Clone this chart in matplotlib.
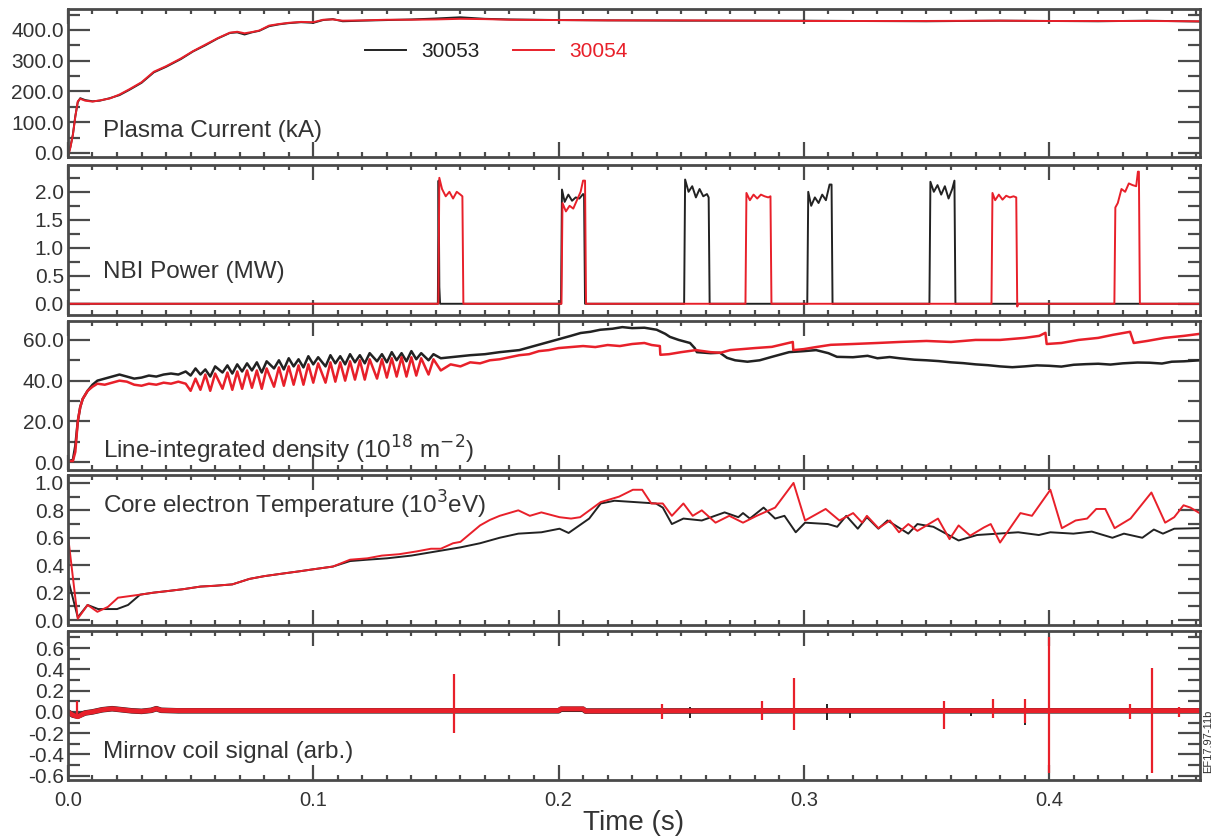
import matplotlib
matplotlib.use("Agg")
import matplotlib.pyplot as plt
from matplotlib.ticker import MultipleLocator, FormatStrFormatter

plt.rcParams['font.family'] = ['Liberation Sans', 'DejaVu Sans']

BLACK = '#222222'
RED = '#e8202a'
TXT = '#333333'
FRAME = '#4a4a4a'

shots = ['30053', '30054']

# ---------------- Plasma current (kA) ----------------
ip_t_53 = [0, 0.001, 0.002, 0.003, 0.004, 0.005, 0.007, 0.010, 0.013, 0.017, 0.021, 0.025,
           0.030, 0.035, 0.040, 0.046, 0.051, 0.056, 0.061, 0.066, 0.069, 0.072, 0.075, 0.078,
           0.082, 0.086, 0.090, 0.095, 0.100, 0.104, 0.108, 0.112, 0.120, 0.130, 0.140, 0.150,
           0.160, 0.170, 0.180, 0.200, 0.220, 0.250, 0.280, 0.300, 0.320, 0.350, 0.380, 0.400,
           0.420, 0.440, 0.4615]
ip_v_53 = [-10, 20, 60, 120, 165, 178, 172, 168, 170, 178, 188, 205,
           228, 262, 280, 305, 330, 350, 372, 390, 392, 385, 392, 397,
           412, 418, 422, 425, 423, 432, 435, 428, 430, 432, 434, 437,
           441, 436, 434, 432, 431, 430, 430, 430, 429, 428, 430, 429,
           428, 430, 427]
ip_t_54 = [0, 0.001, 0.002, 0.003, 0.004, 0.005, 0.007, 0.010, 0.013, 0.017, 0.021, 0.025,
           0.030, 0.035, 0.040, 0.046, 0.051, 0.056, 0.061, 0.066, 0.069, 0.072, 0.075, 0.078,
           0.082, 0.086, 0.090, 0.095, 0.100, 0.104, 0.108, 0.112, 0.120, 0.130, 0.140, 0.150,
           0.160, 0.170, 0.180, 0.200, 0.220, 0.250, 0.280, 0.300, 0.320, 0.350, 0.380, 0.400,
           0.420, 0.440, 0.4615]
ip_v_54 = [-12, 18, 58, 118, 168, 176, 170, 167, 171, 177, 190, 207,
           230, 264, 282, 307, 331, 352, 373, 391, 394, 389, 393, 398,
           414, 419, 423, 426, 425, 433, 434, 430, 431, 433, 433, 434,
           436, 435, 433, 432, 431, 431, 430, 429, 429, 429, 430, 429,
           429, 429, 428]

# ---------------- NBI power (MW) ----------------
nbi_t_53 = [0, 0.1508, 0.1511, 0.1514, 0.1517, 0.2010, 0.2014, 0.2025, 0.2040, 0.2055, 0.2070,
            0.2085, 0.2100, 0.2104, 0.2108, 0.2512, 0.2516, 0.2530, 0.2545, 0.2560, 0.2575,
            0.2590, 0.2605, 0.2612, 0.2616, 0.3014, 0.3018, 0.3030, 0.3045, 0.3060, 0.3075,
            0.3090, 0.3105, 0.3113, 0.3117, 0.3512, 0.3516, 0.3530, 0.3545, 0.3560, 0.3575,
            0.3590, 0.3605, 0.3614, 0.3618, 0.4615]
nbi_v_53 = [0, 0, 2.2, 0.3, 0, 0, 2.04, 1.82, 1.95, 1.84, 1.9, 1.88, 1.96, 1.95, 0, 0, 2.22,
            2.0, 2.1, 1.9, 2.05, 1.92, 1.96, 1.9, 0, 0, 2.0, 1.75, 1.9, 1.8, 1.95, 1.85, 2.13,
            2.13, 0, 0, 2.18, 2.0, 2.12, 1.95, 2.1, 1.88, 2.05, 2.2, 0, 0]
nbi_t_54 = [0, 0.1510, 0.1514, 0.1525, 0.1540, 0.1555, 0.1570, 0.1585, 0.1600, 0.1608, 0.1612,
            0.2012, 0.2016, 0.2030, 0.2045, 0.2060, 0.2075, 0.2090, 0.2100, 0.2108, 0.2112,
            0.2762, 0.2766, 0.2780, 0.2795, 0.2810, 0.2825, 0.2840, 0.2855, 0.2864, 0.2868,
            0.3765, 0.3769, 0.3780, 0.3795, 0.3810, 0.3825, 0.3840, 0.3855, 0.3866, 0.3870,
            0.3874, 0.4266, 0.4270, 0.4280, 0.4295, 0.4310, 0.4325, 0.4340, 0.4355, 0.4362,
            0.4366, 0.4370, 0.4615]
nbi_v_54 = [0, 0, 2.25, 2.05, 1.92, 2.0, 1.88, 2.0, 1.95, 1.92, 0,
            0, 1.8, 1.65, 1.75, 1.7, 1.85, 2.0, 2.2, 2.2, 0,
            0, 1.98, 1.85, 1.95, 1.88, 1.95, 1.92, 1.9, 1.92, 0,
            0, 1.98, 1.85, 1.95, 1.86, 1.93, 1.9, 1.92, 1.9, -0.05,
            0, 0, 1.72, 1.8, 2.05, 2.0, 2.15, 2.12, 2.1, 2.36,
            2.36, 0, 0]

# ---------------- Line-integrated density (1e18 m^-2) ----------------
ne_t_53 = [0, 0.002, 0.003, 0.004, 0.005, 0.006, 0.008, 0.010, 0.012, 0.015, 0.018, 0.021,
           0.024, 0.027, 0.030, 0.033, 0.036, 0.039, 0.042, 0.045, 0.048,
           0.050, 0.052, 0.054, 0.056, 0.058, 0.060, 0.063, 0.065, 0.067, 0.069, 0.071, 0.073,
           0.075, 0.077, 0.079, 0.081, 0.084, 0.086, 0.088, 0.090, 0.092, 0.094, 0.096, 0.098,
           0.100, 0.102, 0.105, 0.107, 0.109, 0.111, 0.113, 0.115, 0.117, 0.119, 0.121, 0.123,
           0.126, 0.128, 0.130, 0.132, 0.134, 0.136, 0.138, 0.140, 0.142, 0.144, 0.147, 0.149,
           0.152, 0.156, 0.160, 0.164, 0.170, 0.176, 0.184, 0.190, 0.199, 0.205, 0.209, 0.213,
           0.217, 0.222, 0.226, 0.230, 0.235, 0.240, 0.2435, 0.2454, 0.249, 0.2536, 0.2555,
           0.2564, 0.262, 0.2658, 0.2687, 0.272, 0.277, 0.282, 0.287, 0.294, 0.300, 0.305,
           0.310, 0.3135, 0.320, 0.326, 0.330, 0.335, 0.339, 0.345, 0.350, 0.355, 0.360,
           0.365, 0.370, 0.375, 0.380, 0.385, 0.390, 0.395, 0.400, 0.405, 0.410, 0.415,
           0.420, 0.425, 0.430, 0.436, 0.441, 0.446, 0.450, 0.455, 0.4615]
ne_v_53 = [0.5, 1, 8, 20, 27, 31, 35, 38, 40, 41, 42, 43,
           42, 41, 41.5, 42.5, 42, 43, 43.5, 43, 44.5,
           42.5, 46, 43, 45.5, 42, 47, 44, 47.5, 43.5, 48, 44.5, 48.5,
           45, 49, 44, 49.5, 46, 50, 45.5, 51, 47, 50.5, 46.5, 52,
           48, 51.5, 47, 52.5, 48.5, 52, 48, 53, 49, 52.5, 48.5, 53.5,
           49.5, 53, 49, 54, 50, 53.5, 49.5, 54.5, 50.5, 53.5, 50, 53,
           51, 51.5, 52, 52.5, 53, 54, 55, 57, 60, 62, 63.4, 64,
           65, 65.5, 66.3, 65.8, 66, 65, 63, 61.5, 60, 58.5, 56,
           54, 53.5, 53.7, 51.2, 50, 49.3, 50, 51.7, 54, 54.5, 55,
           53.5, 51.7, 51.5, 52.2, 51, 51.6, 51, 50.3, 50, 49.6, 49,
           48.6, 48, 47.6, 47, 46.6, 47, 47.5, 47.3, 46.9, 47.8, 48.1,
           48.3, 47.9, 48.5, 48.9, 48.8, 48.4, 49.3, 49.5, 50]
ne_t_54 = [0, 0.002, 0.003, 0.004, 0.005, 0.006, 0.008, 0.010, 0.012, 0.015, 0.018, 0.021,
           0.024, 0.027, 0.030, 0.033, 0.036, 0.039, 0.042, 0.045, 0.048,
           0.050, 0.052, 0.054, 0.056, 0.058, 0.060, 0.063, 0.065, 0.067, 0.069, 0.071, 0.073,
           0.075, 0.077, 0.079, 0.081, 0.084, 0.086, 0.088, 0.090, 0.092, 0.094, 0.096, 0.098,
           0.100, 0.102, 0.105, 0.107, 0.109, 0.111, 0.113, 0.115, 0.117, 0.119, 0.121, 0.123,
           0.126, 0.128, 0.130, 0.132, 0.134, 0.136, 0.138, 0.140, 0.142, 0.144, 0.147, 0.149,
           0.152, 0.156, 0.160, 0.164, 0.168, 0.172, 0.176, 0.180, 0.184, 0.188, 0.192, 0.196,
           0.200, 0.205, 0.210, 0.215, 0.220, 0.225, 0.230, 0.235, 0.238, 0.2413, 0.2415,
           0.245, 0.250, 0.256, 0.262, 0.266, 0.270, 0.275, 0.280, 0.287, 0.2955, 0.2957,
           0.300, 0.305, 0.311, 0.320, 0.330, 0.339, 0.350, 0.360, 0.370, 0.380, 0.390,
           0.396, 0.3985, 0.399, 0.405, 0.412, 0.420, 0.426, 0.433, 0.4345, 0.440, 0.447,
           0.455, 0.4615]
ne_v_54 = [0.5, 0.5, 5, 20, 27, 31, 35, 37, 38.5, 38, 39, 40,
           39.5, 38, 37.5, 38.5, 38, 39, 38.5, 39.5, 38.5,
           35, 41, 35.5, 43, 35, 43.5, 36, 44, 35.5, 44.5, 36, 45,
           36.5, 45, 36, 46, 37, 46.5, 37.5, 47, 38, 47.5, 38, 48,
           39, 48.5, 39, 49, 39.5, 49, 40, 49.5, 40.5, 50, 40.5, 50.5,
           41, 50.5, 41.5, 51, 42, 51.5, 42, 51.5, 42.5, 51, 43, 50.5,
           45, 48, 47, 49, 48.5, 50, 50.5, 51.5, 52.5, 53, 54.5, 55,
           56, 56.5, 57, 56.5, 57.5, 57, 58, 58.5, 57.5, 57, 52.7,
           53, 54, 55, 54, 53.7, 55, 55.5, 56, 56.6, 59, 55,
           55.5, 56.5, 57.6, 58, 58.5, 59, 59.5, 59, 60, 60, 61,
           62, 63.5, 58, 58.5, 60, 61, 62.5, 64, 58.5, 59.5, 61,
           62, 63]

# ---------------- Core electron temperature (keV) ----------------
te_t_53 = [0, 0.004, 0.008, 0.0123, 0.020, 0.0245, 0.0294, 0.035, 0.040, 0.047, 0.054, 0.060,
           0.067, 0.074, 0.080, 0.088, 0.0946, 0.100, 0.108, 0.115, 0.122, 0.130, 0.140, 0.150,
           0.160, 0.168, 0.176, 0.1836, 0.193, 0.2004, 0.2041, 0.2125, 0.2172, 0.2228, 0.2397,
           0.2425, 0.2462, 0.2509, 0.2584, 0.2677, 0.2733, 0.2752, 0.278, 0.2836, 0.2883,
           0.2921, 0.2967, 0.3005, 0.3098, 0.3136, 0.3173, 0.322, 0.3257, 0.3304, 0.3341,
           0.3426, 0.3463, 0.3528, 0.3631, 0.3706, 0.379, 0.3874, 0.3958, 0.4005, 0.4099,
           0.4174, 0.4258, 0.4305, 0.438, 0.4427, 0.4464, 0.451, 0.4613]
te_v_53 = [0.30, 0.02, 0.11, 0.08, 0.08, 0.11, 0.185, 0.20, 0.21, 0.225, 0.244, 0.25,
           0.26, 0.30, 0.32, 0.34, 0.356, 0.37, 0.39, 0.43, 0.44, 0.45, 0.47, 0.50,
           0.53, 0.56, 0.60, 0.63, 0.64, 0.666, 0.635, 0.74, 0.85, 0.87, 0.85,
           0.82, 0.70, 0.74, 0.726, 0.785, 0.75, 0.78, 0.74, 0.82, 0.74,
           0.76, 0.64, 0.71, 0.70, 0.68, 0.76, 0.666, 0.75, 0.666, 0.726,
           0.63, 0.70, 0.68, 0.58, 0.62, 0.63, 0.64, 0.62, 0.64, 0.63,
           0.645, 0.60, 0.63, 0.60, 0.66, 0.63, 0.666, 0.67]
te_t_54 = [0, 0.004, 0.008, 0.012, 0.0163, 0.0204, 0.0294, 0.035, 0.040, 0.047, 0.054, 0.060,
           0.067, 0.074, 0.080, 0.088, 0.0946, 0.100, 0.108, 0.115, 0.122, 0.128, 0.135, 0.142,
           0.148, 0.152, 0.157, 0.160, 0.168, 0.172, 0.176, 0.1836, 0.1883, 0.193, 0.2004,
           0.2051, 0.2088, 0.2172, 0.2247, 0.2303, 0.2341, 0.2378, 0.2425, 0.2462, 0.2509,
           0.2547, 0.2584, 0.264, 0.2696, 0.2752, 0.2808, 0.2883, 0.2958, 0.3005, 0.3089,
           0.3145, 0.3201, 0.3238, 0.3257, 0.3304, 0.3351, 0.3388, 0.3426, 0.3463, 0.3547,
           0.3594, 0.3631, 0.3678, 0.3734, 0.3762, 0.380, 0.3883, 0.393, 0.4005, 0.4052,
           0.4108, 0.4155, 0.4192, 0.4229, 0.4267, 0.4332, 0.4417, 0.4473, 0.451, 0.4548,
           0.4576, 0.4613]
te_v_54 = [0.615, 0.01, 0.11, 0.06, 0.096, 0.163, 0.185, 0.20, 0.21, 0.225, 0.244, 0.25,
           0.26, 0.30, 0.32, 0.34, 0.356, 0.37, 0.39, 0.44, 0.45, 0.47, 0.48, 0.50,
           0.52, 0.52, 0.56, 0.57, 0.69, 0.73, 0.76, 0.80, 0.76, 0.785, 0.75,
           0.74, 0.75, 0.86, 0.90, 0.95, 0.95, 0.85, 0.85, 0.76, 0.85,
           0.76, 0.80, 0.71, 0.76, 0.71, 0.76, 0.82, 1.00, 0.726, 0.81,
           0.726, 0.78, 0.71, 0.76, 0.67, 0.726, 0.64, 0.70, 0.65, 0.74,
           0.59, 0.69, 0.615, 0.675, 0.70, 0.565, 0.78, 0.76, 0.95, 0.67,
           0.726, 0.74, 0.81, 0.81, 0.67, 0.74, 0.93, 0.71, 0.75, 0.837,
           0.82, 0.78]

# ---------------- Mirnov coil signal (arb.) ----------------
mir_t_53 = [0, 0.002, 0.004, 0.007, 0.010, 0.014, 0.018, 0.022, 0.026, 0.030, 0.034, 0.036,
            0.038, 0.045, 0.100, 0.200, 0.201, 0.210, 0.211, 0.300, 0.400, 0.4615]
mir_v_53 = [0.0, -0.03, -0.04, -0.01, 0.0, 0.02, 0.03, 0.02, 0.01, 0.005, 0.015, 0.03,
            0.015, 0.01, 0.01, 0.01, 0.025, 0.025, 0.008, 0.01, 0.01, 0.01]
mir_t_54 = [0, 0.002, 0.004, 0.007, 0.010, 0.014, 0.018, 0.022, 0.026, 0.030, 0.034, 0.036,
            0.038, 0.045, 0.100, 0.200, 0.201, 0.210, 0.211, 0.300, 0.400, 0.4615]
mir_v_54 = [0.0, -0.03, -0.045, -0.01, 0.0, 0.02, 0.03, 0.02, 0.01, 0.005, 0.015, 0.03,
            0.015, 0.012, 0.012, 0.012, 0.028, 0.028, 0.008, 0.012, 0.012, 0.012]
# burst times with upper / lower excursions
spk_t_53 = [0.2536, 0.3095, 0.319, 0.368, 0.390]
spk_hi_53 = [0.05, 0.07, 0.03, 0.04, 0.08]
spk_lo_53 = [-0.06, -0.08, -0.06, -0.04, -0.12]
spk_t_54 = [0.0035, 0.1575, 0.242, 0.283, 0.296, 0.357, 0.377, 0.390, 0.3998, 0.433, 0.4418, 0.453]
spk_hi_54 = [0.10, 0.36, 0.07, 0.10, 0.32, 0.10, 0.12, 0.12, 0.70, 0.07, 0.41, 0.05]
spk_lo_54 = [-0.05, -0.20, -0.07, -0.08, -0.17, -0.16, -0.06, -0.10, -0.57, -0.07, -0.57, -0.05]

# ---------------- layout ----------------
fig = plt.figure(figsize=(12.18, 8.39), dpi=100)
left, width = 0.0558, 0.9294
rows = [(0.8129, 0.1764), (0.6246, 0.1788), (0.4398, 0.1776), (0.2551, 0.1788), (0.0703, 0.1776)]
axes = [fig.add_axes([left, b, width, h]) for b, h in rows]

ylims = [(-13, 468), (-0.2, 2.48), (-3.9, 69.3), (-0.036, 1.058), (-0.64, 0.76)]
ymaj = [100, 0.5, 20, 0.2, 0.2]
ymin = [50, 0.25, 10, 0.1, 0.1]
labels = ['Plasma Current (kA)', 'NBI Power (MW)',
          'Line-integrated density (10$^{18}$ m$^{-2}$)',
          'Core electron Temperature (10$^{3}$eV)', 'Mirnov coil signal (arb.)']
label_y = [0.176, 0.287, 0.134, 0.80, 0.188]

for i, ax in enumerate(axes):
    ax.set_xlim(0, 0.4615)
    ax.set_ylim(*ylims[i])
    ax.xaxis.set_major_locator(MultipleLocator(0.1))
    ax.xaxis.set_minor_locator(MultipleLocator(0.01))
    ax.yaxis.set_major_locator(MultipleLocator(ymaj[i]))
    ax.yaxis.set_minor_locator(MultipleLocator(ymin[i]))
    ax.yaxis.set_major_formatter(FormatStrFormatter('%.1f'))
    ax.tick_params(axis='both', which='both', direction='in', top=True, right=True,
                   colors=FRAME, labelcolor=TXT, width=1.6)
    ax.tick_params(axis='y', which='major', length=16, labelsize=15, pad=3)
    ax.tick_params(axis='y', which='minor', length=8.5)
    ax.tick_params(axis='x', which='major', length=11, labelsize=14.5, pad=8)
    ax.tick_params(axis='x', which='minor', length=3.8)
    for s in ax.spines.values():
        s.set_color(FRAME)
        s.set_linewidth(2.0)
    if i < 4:
        ax.tick_params(axis='x', labelbottom=False)
    ax.text(0.031, label_y[i], labels[i], transform=ax.transAxes, ha='left', va='center',
            fontsize=17.5, color=TXT)

ax1, ax2, ax3, ax4, ax5 = axes

ax1.plot(ip_t_53, ip_v_53, color=BLACK, lw=1.4, label=shots[0])
ax1.plot(ip_t_54, ip_v_54, color=RED, lw=1.4, label=shots[1])
leg = ax1.legend(loc='center', bbox_to_anchor=(0.378, 0.71), ncol=2, frameon=False,
                 fontsize=15, handlelength=2.0, handletextpad=0.7, columnspacing=1.6,
                 labelcolor='linecolor')

ax2.plot(nbi_t_53, nbi_v_53, color=BLACK, lw=1.4)
ax2.plot(nbi_t_54, nbi_v_54, color=RED, lw=1.4)

ax3.plot(ne_t_53, ne_v_53, color=BLACK, lw=1.8)
ax3.plot(ne_t_54, ne_v_54, color=RED, lw=1.8)

ax4.plot(te_t_53, te_v_53, color=BLACK, lw=1.4)
ax4.plot(te_t_54, te_v_54, color=RED, lw=1.4)

ax5.plot(mir_t_53, mir_v_53, color=BLACK, lw=4.0)
ax5.vlines(spk_t_53, spk_lo_53, spk_hi_53, color=BLACK, lw=1.4)
ax5.plot(mir_t_54, mir_v_54, color=RED, lw=3.5)
ax5.vlines(spk_t_54, spk_lo_54, spk_hi_54, color=RED, lw=1.6)

ax5.set_xticks([0.0, 0.1, 0.2, 0.3, 0.4])
ax5.xaxis.set_major_formatter(FormatStrFormatter('%.1f'))
ax5.set_xlabel('Time (s)', fontsize=20, color=TXT, labelpad=0)

fig.text(0.9915, 0.117, 'EF17.97-11b', rotation=90, ha='center', va='center',
         fontsize=8, color=TXT)

fig.savefig('out.png', dpi=100)
